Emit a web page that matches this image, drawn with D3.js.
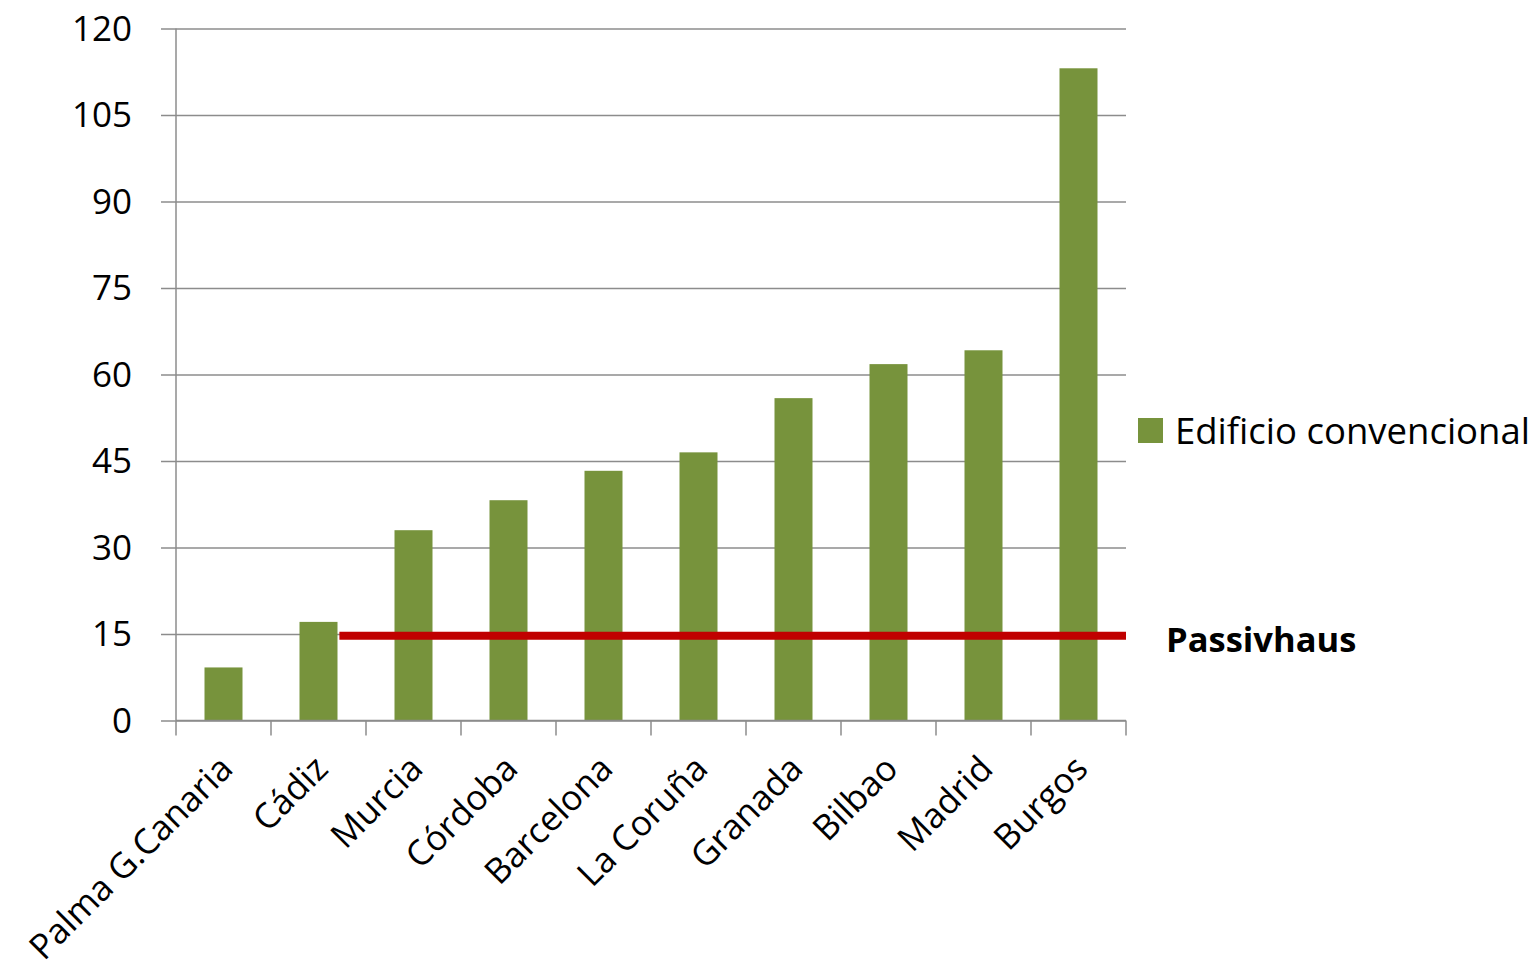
<!DOCTYPE html>
<html>
<head>
<meta charset="utf-8">
<script src="https://cdn.jsdelivr.net/npm/d3@7"></script>
<style>
  html, body { margin: 0; padding: 0; background: #fff; }
  svg { display: block; font-family: "Open Sans", sans-serif; }
  svg text { font-family: "Open Sans", sans-serif; }
</style>
</head>
<body>
<svg id="chart" width="1540" height="973"></svg>
<script>
// Demanda de calefacción por ciudad (kWh/m²·año)
const cities = ["Palma G.Canaria", "Cádiz", "Murcia", "Córdoba", "Barcelona",
                "La Coruña", "Granada", "Bilbao", "Madrid", "Burgos"];
const conventional = [9.2, 17.1, 33.0, 38.2, 43.3, 46.5, 55.9, 61.8, 64.2, 113.1];
const passivhausLimit = 14.7;
const yTicks = [0, 15, 30, 45, 60, 75, 90, 105, 120];
const seriesName = "Edificio convencional";
const limitName = "Passivhaus";

const barColor = "#77933C";
const limitColor = "#C00000";
const gridColor = "#8C8C8C";

const svg = d3.select("#chart");
const plot = { left: 176, top: 28.5, width: 950, height: 692 };

const x = d3.scaleBand()
  .domain(cities)
  .range([plot.left, plot.left + plot.width])
  .paddingInner(0.6)
  .paddingOuter(0.3);

const y = d3.scaleLinear()
  .domain([0, 120])
  .range([plot.top + plot.height, plot.top]);

// horizontal gridlines with outside tick marks
const yAxis = svg.append("g")
  .attr("transform", `translate(${plot.left},0)`)
  .call(d3.axisLeft(y).tickValues(yTicks).tickSize(-plot.width).tickSizeOuter(0).tickPadding(44));
yAxis.attr("font-family", null).attr("font-size", null);
yAxis.select(".domain").remove();
yAxis.selectAll(".tick line")
  .attr("x1", -15)
  .attr("stroke", gridColor)
  .attr("stroke-width", 1.5);
yAxis.selectAll(".tick text")
  .attr("fill", "#000")
  .style("font-size", "35px")
  .attr("dy", "0.34em");

// vertical axis line
svg.append("line")
  .attr("x1", plot.left).attr("x2", plot.left)
  .attr("y1", y(120)).attr("y2", y(0))
  .attr("stroke", gridColor).attr("stroke-width", 1.5);

// bars
svg.append("g")
  .selectAll("rect")
  .data(cities)
  .join("rect")
  .attr("x", d => x(d))
  .attr("width", x.bandwidth())
  .attr("y", (d, i) => y(conventional[i]))
  .attr("height", (d, i) => y(0) - y(conventional[i]))
  .attr("fill", barColor);

// category axis: baseline and ticks on band boundaries
const base = y(0);
svg.append("line")
  .attr("x1", plot.left).attr("x2", plot.left + plot.width)
  .attr("y1", base).attr("y2", base)
  .attr("stroke", gridColor).attr("stroke-width", 1.5);
const boundaries = d3.range(cities.length + 1).map(i => plot.left + i * x.step());
svg.append("g")
  .selectAll("line")
  .data(boundaries)
  .join("line")
  .attr("x1", d => d).attr("x2", d => d)
  .attr("y1", base).attr("y2", base + 15)
  .attr("stroke", gridColor).attr("stroke-width", 1.5);

// rotated city labels
svg.append("g")
  .selectAll("text")
  .data(cities)
  .join("text")
  .attr("transform", d => `translate(${x(d) + x.bandwidth() / 2 - 6},${base + 33}) rotate(-45)`)
  .attr("text-anchor", "end")
  .attr("dy", "0.7em")
  .style("font-size", "35px")
  .attr("fill", "#000")
  .text(d => d);

// Passivhaus limit line
const limitStart = boundaries[1] + x.step() * 0.72;
svg.append("line")
  .attr("x1", limitStart)
  .attr("x2", plot.left + plot.width)
  .attr("y1", y(passivhausLimit))
  .attr("y2", y(passivhausLimit))
  .attr("stroke", limitColor)
  .attr("stroke-width", 8);

svg.append("text")
  .attr("x", 1166)
  .attr("y", y(passivhausLimit) + 16)
  .style("font-size", "34.5px")
  .style("font-weight", "bold")
  .attr("fill", "#000")
  .text(limitName);

// legend
const legend = svg.append("g").attr("transform", "translate(1138,418)");
legend.append("rect")
  .attr("width", 25).attr("height", 25)
  .attr("fill", barColor);
legend.append("text")
  .attr("x", 37)
  .attr("y", 12.5)
  .attr("dy", "0.36em")
  .style("font-size", "36.5px")
  .attr("fill", "#000")
  .text(seriesName);
</script>
</body>
</html>
